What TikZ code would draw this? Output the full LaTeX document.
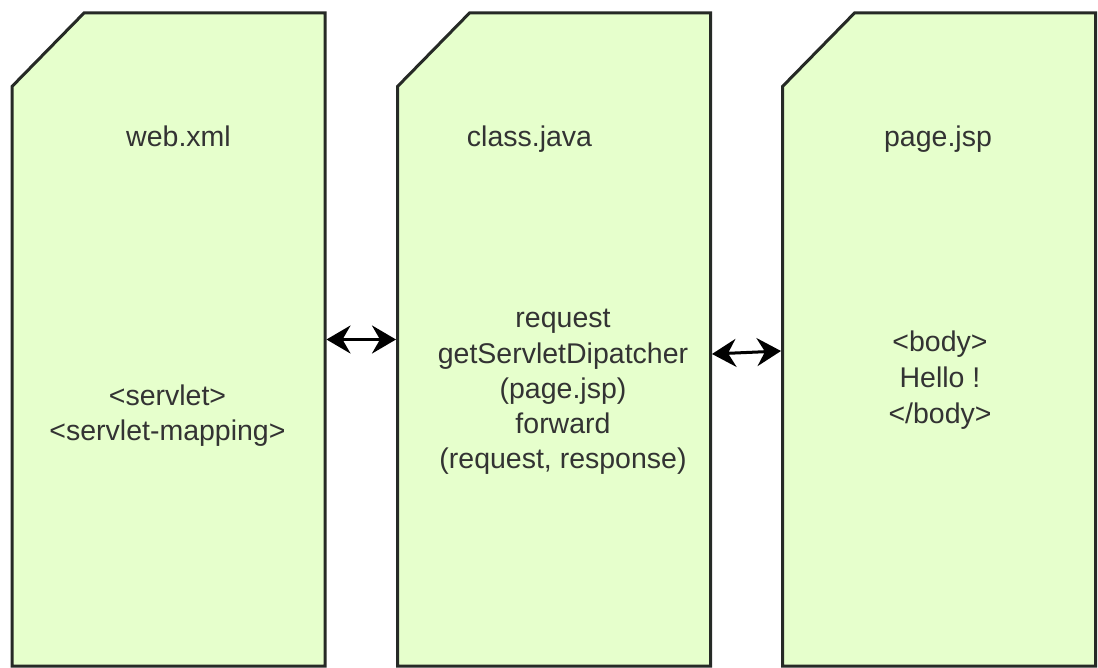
\documentclass[tikz,border=0pt]{standalone}
\usepackage{fontspec}
\setmainfont{Liberation Sans}
\usetikzlibrary{arrows.meta,calc}
\definecolor{cardfill}{HTML}{E6FFCC}
\definecolor{cardline}{HTML}{262A26}
\definecolor{txtcol}{HTML}{333333}
\tikzset{
  card/.style={rectangle, inner sep=0pt, outer sep=1.5pt,
    minimum width=313pt, minimum height=653pt},
  cardedge/.style={draw=cardline, fill=cardfill, line width=3pt, line join=miter},
  txt/.style={text=txtcol, font=\fontsize{28.5}{35}\selectfont, inner sep=0pt, anchor=base},
  link/.style={{Stealth[length=24pt,width=28pt,inset=8pt]}-{Stealth[length=24pt,width=28pt,inset=8pt]},
    line width=3pt, draw=black}
}
\begin{document}
\begin{tikzpicture}[x=1pt,y=-1pt]
    \useasboundingbox (0,0) rectangle (1098,668);
    % three files
    \node [card] (web) at (168.5,339.5) {};
    \node [card] (cls) at (554,339.5) {};
    \node [card] (jsp) at (939,339.5) {};
    \foreach \f in {web,cls,jsp}
        \draw [cardedge] ($(\f.north west)+(1.5,75)$) -- ($(\f.north west)+(73.5,1.5)$)
            -- ($(\f.north east)+(-1.5,1.5)$) -- ($(\f.south east)+(-1.5,-1.5)$)
            -- ($(\f.south west)+(1.5,-1.5)$) -- cycle;

    % titles
    \node [txt] (web-title) at (178.5,147) {web.xml};
    \node [txt] (cls-title) at (529.5,147) {class.java};
    \node [txt] (jsp-title) at (938,147) {page.jsp};

    % contents
    \foreach \i/\line in {0/{<servlet>}, 1/{<servlet-mapping>}}
        \node [txt] (web-\i) at (167.5,405+35*\i) {\line};
    \foreach \i/\line in {0/request, 1/getServletDipatcher, 2/{(page.jsp)}, 3/forward, 4/{(request, response)}}
        \node [txt] (cls-\i) at (563,328+35*\i) {\line};
    \foreach \i/\line in {0/{<body>}, 1/{Hello !}, 2/{</body>}}
        \node [txt] (jsp-\i) at (940,352+35.5*\i) {\line};

    % links
    \draw [link] (web.east) -- (cls.west);
    \draw [link] ($(cls.east)+(0,14.5)$) -- ($(jsp.west)+(0,11.5)$);
\end{tikzpicture}
\end{document}
